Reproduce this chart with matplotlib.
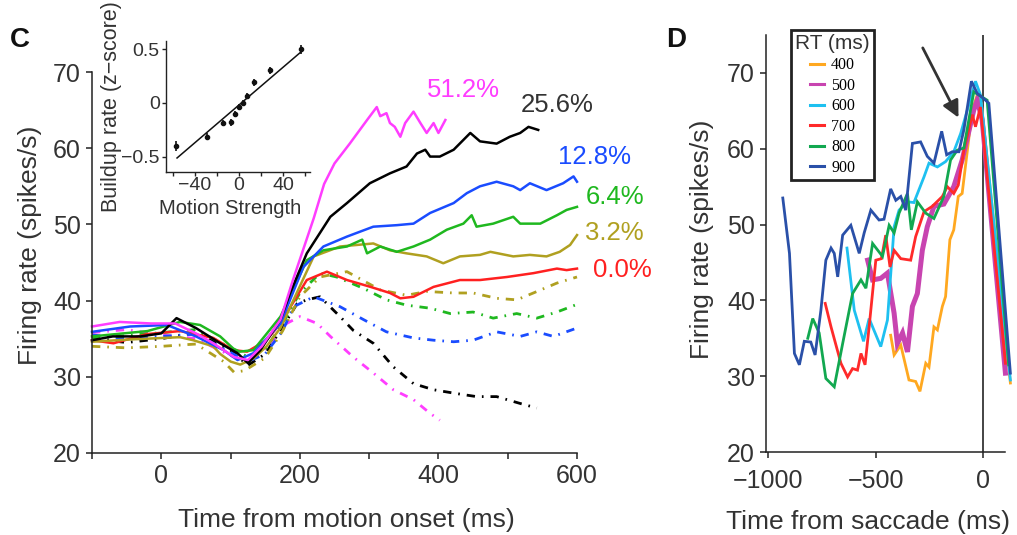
import matplotlib
matplotlib.use("Agg")
import matplotlib.pyplot as plt
from matplotlib.ticker import FixedLocator

plt.rcParams['font.family'] = ['Liberation Sans', 'DejaVu Sans']

# ---------------- Panel C data (time from motion onset, ms / firing rate) ----------------
coh_labels = ['51.2%', '25.6%', '12.8%', '6.4%', '3.2%', '0.0%']
coh_colors = ['#ff3dff', '#000000', '#1a4cff', '#1fb81f', '#b0a020', '#ff2020']

t_in_512 = [-100, -60, -15, 20, 50, 75, 105, 125, 145, 172, 190, 220, 235, 250, 272, 297, 311, 316, 325, 330, 337, 345, 352, 364, 374, 383, 393, 400, 410]
r_in_512 = [36.6, 37.2, 37.0, 37.0, 35.7, 34.4, 32.6, 32.2, 34.0, 37.5, 42.7, 50.8, 55.3, 58.0, 60.6, 63.7, 65.4, 64.2, 64.6, 63.3, 62.8, 61.5, 63.3, 64.8, 63.3, 62.0, 63.3, 62.0, 63.7]

t_in_256 = [-100, -70, -30, 0, 22, 50, 85, 110, 125, 143, 172, 186, 210, 244, 268, 301, 330, 354, 369, 381, 388, 402, 422, 446, 460, 484, 503, 518, 530, 544]
r_in_256 = [34.8, 35.3, 35.3, 35.7, 37.7, 36.4, 34.4, 33.1, 31.8, 33.5, 37.5, 41.0, 46.2, 51.0, 52.8, 55.4, 56.7, 57.6, 59.3, 59.8, 58.9, 58.9, 59.8, 62.0, 60.9, 60.6, 61.5, 62.0, 62.8, 62.4]

t_in_128 = [-100, -45, 8, 50, 90, 110, 133, 172, 205, 234, 268, 306, 340, 364, 388, 422, 441, 460, 484, 508, 518, 532, 556, 580, 595, 600]
r_in_128 = [35.9, 36.6, 36.8, 35.3, 33.5, 32.2, 33.1, 37.0, 44.4, 47.1, 48.4, 49.7, 49.9, 50.1, 51.5, 52.8, 54.1, 55.0, 55.6, 55.0, 54.5, 55.4, 54.5, 55.4, 56.3, 55.6]

t_in_64 = [-100, -20, 27, 56, 85, 104, 113, 133, 172, 210, 234, 268, 290, 297, 316, 340, 364, 388, 412, 436, 448, 455, 479, 508, 518, 547, 571, 585, 600]
r_in_64 = [35.3, 36.0, 37.2, 36.8, 35.3, 33.7, 33.3, 33.5, 37.9, 45.3, 46.6, 47.1, 48.0, 46.2, 47.1, 46.4, 47.1, 48.0, 49.3, 50.1, 51.2, 49.7, 50.1, 51.0, 50.1, 50.1, 51.2, 51.9, 52.3]

t_in_32 = [-100, -45, 27, 46, 75, 85, 100, 114, 133, 152, 172, 220, 258, 306, 330, 354, 383, 407, 431, 460, 475, 508, 532, 556, 575, 590, 600]
r_in_32 = [34.6, 34.9, 35.2, 34.8, 34.0, 33.0, 32.0, 31.6, 32.4, 34.0, 36.4, 45.8, 47.1, 47.5, 46.6, 46.2, 45.8, 44.9, 45.8, 46.0, 46.4, 45.8, 46.0, 45.8, 46.4, 47.3, 48.6]

t_in_0 = [-100, -69, -21, 27, 75, 104, 124, 152, 172, 210, 239, 268, 302, 330, 345, 364, 393, 431, 460, 499, 537, 571, 585, 600]
r_in_0 = [34.8, 34.4, 35.6, 36.0, 35.1, 33.5, 33.3, 34.8, 37.0, 42.7, 43.8, 42.7, 41.8, 41.0, 40.3, 40.5, 41.8, 42.7, 42.7, 43.1, 43.6, 44.2, 44.0, 44.2]

t_out_512 = [-100, -50, 0, 50, 100, 125, 150, 181, 200, 225, 244, 277, 306, 335, 364, 388, 402]
r_out_512 = [35.8, 36.2, 35.5, 35.0, 32.8, 32.0, 33.6, 37.0, 37.9, 37.0, 35.3, 32.6, 30.5, 28.3, 27.0, 25.2, 24.3]

t_out_256 = [-100, -50, 0, 50, 100, 125, 150, 175, 196, 210, 229, 258, 277, 306, 335, 364, 393, 426, 455, 484, 518, 542]
r_out_256 = [35.0, 34.5, 35.0, 35.8, 33.5, 31.5, 33.0, 36.5, 39.6, 40.1, 40.5, 37.9, 36.1, 34.4, 31.3, 29.1, 28.3, 27.8, 27.4, 27.4, 26.5, 25.9]

t_out_128 = [-100, -50, 0, 50, 100, 125, 150, 175, 191, 220, 258, 292, 325, 364, 393, 422, 450, 484, 518, 542, 566, 600]
r_out_128 = [35.5, 35.0, 35.3, 35.6, 33.2, 32.0, 33.0, 36.0, 39.2, 40.5, 39.2, 37.5, 35.9, 35.1, 34.8, 34.6, 34.8, 35.9, 35.3, 35.9, 35.3, 36.4]

t_out_64 = [-100, -50, 0, 50, 100, 125, 150, 175, 200, 229, 253, 292, 325, 354, 388, 417, 450, 479, 513, 542, 571, 597]
r_out_64 = [35.0, 35.4, 35.8, 36.2, 33.8, 32.6, 33.6, 37.0, 41.0, 43.6, 43.1, 41.6, 40.1, 39.4, 39.0, 38.3, 38.5, 37.7, 38.3, 37.7, 38.5, 39.4]

t_out_32 = [-100, -50, 0, 50, 90, 105, 120, 150, 175, 200, 229, 268, 316, 354, 383, 422, 450, 484, 513, 537, 571, 600]
r_out_32 = [34.0, 33.8, 34.0, 34.3, 32.0, 30.6, 30.8, 32.5, 36.0, 40.5, 43.1, 43.8, 41.4, 40.7, 41.2, 41.0, 41.0, 40.3, 40.1, 41.0, 42.3, 43.1]

label_x = [384, 519, 573, 612, 612, 623]
label_y = [67.6, 65.7, 58.9, 53.6, 48.9, 44.0]

# ---------------- Inset data ----------------
ms_x = [-56.6, -28.8, -14.3, -7.3, -3.6, 0.0, 3.4, 7.0, 13.9, 28.5, 56.6]
ms_y = [-0.396, -0.311, -0.186, -0.179, -0.10, -0.038, 0.003, 0.066, 0.192, 0.302, 0.497]
ms_err = [0.045, 0.035, 0.03, 0.03, 0.03, 0.025, 0.025, 0.03, 0.03, 0.035, 0.045]
fit_x = [-56.0, 56.6]
fit_y = [-0.51, 0.476]

# ---------------- Panel D data (time from saccade, ms / firing rate) ----------------
rt_labels = ['400', '500', '600', '700', '800', '900']
rt_colors = ['#ffa820', '#c844b0', '#1ec0f0', '#ff2a2a', '#12a850', '#2a50a8']
rt_widths = [2.0, 3.6, 2.0, 2.0, 2.0, 2.0]

t_rt400 = [-431, -415, -384, -346, -315, -295, -268, -253, -230, -214, -191, -176, -156, -138, -117, -99, -52, -30, -10, 125]
r_rt400 = [35.4, 32.8, 34.1, 29.5, 29.3, 28.0, 31.7, 31.2, 36.5, 36.1, 39.2, 40.5, 48.0, 49.3, 53.7, 54.1, 65.1, 67.0, 66.0, 29.1]

t_rt500 = [-538, -515, -477, -446, -415, -400, -376, -353, -330, -307, -284, -261, -230, -184, -138, -99, -45, -29, -6, 102]
r_rt500 = [45.3, 42.7, 42.9, 43.6, 38.3, 34.3, 35.7, 33.2, 39.2, 40.9, 46.6, 49.7, 52.4, 52.7, 55.0, 58.5, 65.1, 66.4, 63.8, 30.4]

t_rt600 = [-634, -600, -557, -531, -477, -446, -415, -392, -353, -323, -276, -253, -214, -176, -138, -106, -37, -14, 125]
r_rt600 = [46.9, 38.7, 34.6, 37.6, 33.9, 37.4, 49.7, 51.9, 53.0, 52.9, 56.3, 58.1, 57.6, 58.3, 59.6, 62.0, 68.9, 67.1, 29.5]

t_rt700 = [-735, -708, -662, -631, -608, -585, -569, -550, -531, -500, -474, -454, -434, -415, -384, -338, -315, -276, -238, -191, -168, -138, -117, -91, -52, -37, -14, 102]
r_rt700 = [39.6, 36.5, 31.7, 29.9, 31.0, 30.8, 33.0, 31.5, 36.5, 45.3, 45.5, 48.6, 44.4, 46.6, 45.5, 45.3, 48.4, 51.7, 52.4, 53.7, 55.0, 54.1, 55.2, 59.8, 64.5, 62.9, 65.5, 31.7]

t_rt800 = [-816, -793, -763, -732, -693, -654, -608, -569, -546, -515, -469, -438, -415, -392, -353, -335, -307, -268, -230, -184, -153, -122, -91, -45, 17, 117]
r_rt800 = [35.0, 37.6, 35.7, 29.7, 28.6, 34.3, 40.9, 42.7, 41.6, 47.5, 45.8, 49.9, 48.9, 51.5, 54.1, 49.3, 53.0, 51.5, 50.8, 53.7, 58.5, 59.8, 60.1, 67.5, 66.4, 31.5]

t_rt900 = [-932, -901, -878, -855, -832, -802, -782, -755, -732, -708, -693, -677, -654, -616, -577, -554, -523, -485, -462, -431, -407, -384, -361, -330, -292, -261, -230, -194, -171, -145, -114, -91, -56, -29, 2, 25, 125]
r_rt900 = [53.5, 46.2, 33.0, 31.5, 34.6, 34.5, 32.8, 38.7, 45.3, 46.9, 46.2, 43.1, 48.6, 49.9, 46.2, 48.9, 51.9, 50.6, 50.7, 54.7, 53.2, 53.7, 51.9, 60.7, 60.9, 59.0, 58.1, 62.3, 59.2, 59.6, 59.6, 62.5, 68.9, 67.3, 66.6, 66.0, 30.4]

arrow_tail = (-282, 73.3)
arrow_head = (-116, 64.1)

# ---------------- Figure ----------------
W, H = 1017, 535
fig = plt.figure(figsize=(W / 100, H / 100), dpi=100)

def fx(px):
    return px / W

def fy(py):
    return 1 - py / H

TXT = '#333333'
SPINE = '#222222'

def style_axes(ax, lw=1.1):
    for s in ['top', 'right']:
        ax.spines[s].set_visible(False)
    for s in ['left', 'bottom']:
        ax.spines[s].set_linewidth(lw)
        ax.spines[s].set_color(SPINE)
    ax.tick_params(which='both', direction='out', color=SPINE, width=lw, labelcolor=TXT)

# Panel C
axC = fig.add_axes([fx(92), fy(453), fx(577) - fx(92), fy(72) - fy(453)])
style_axes(axC)
axC.set_xlim(-100, 600)
axC.set_ylim(20, 70)
axC.xaxis.set_major_locator(FixedLocator([0, 200, 400, 600]))
axC.xaxis.set_minor_locator(FixedLocator([-100, 100, 300, 500]))
axC.set_yticks([20, 30, 40, 50, 60, 70])
axC.tick_params(which='both', length=4, pad=4, labelsize=18)

in_curves = [(t_in_512, r_in_512), (t_in_256, r_in_256), (t_in_128, r_in_128),
             (t_in_64, r_in_64), (t_in_32, r_in_32), (t_in_0, r_in_0)]
out_curves = [(t_out_512, r_out_512), (t_out_256, r_out_256), (t_out_128, r_out_128),
              (t_out_64, r_out_64), (t_out_32, r_out_32)]

for (t, r), c in zip(out_curves, coh_colors[:5]):
    axC.plot(t, r, color=c, lw=2.0, linestyle=(0, (3, 2.5, 0.6, 2.5)), clip_on=False)
for (t, r), c in zip(in_curves[::-1], coh_colors[::-1]):
    axC.plot(t, r, color=c, lw=1.8, clip_on=False)

for lab, c, x, y in zip(coh_labels, coh_colors, label_x, label_y):
    tc = '#333333' if c == '#000000' else c
    axC.text(x, y, lab, color=tc, fontsize=18.5, ha='left', va='center', clip_on=False)

fig.text(fx(20), fy(40), 'C', fontsize=20, fontweight='bold', ha='center', va='center', color='#111111')
fig.text(fx(30), fy(245), 'Firing rate (spikes/s)', rotation=90, fontsize=19, ha='center', va='center', color=TXT)
fig.text(fx(346), fy(520), 'Time from motion onset (ms)', fontsize=19, ha='center', va='center', color=TXT)

# Inset
axI = fig.add_axes([fx(166), fy(172), fx(310) - fx(166), fy(41) - fy(172)])
style_axes(axI, lw=1.0)
axI.set_xlim(-66, 64.5)
axI.set_ylim(-0.64, 0.575)
axI.set_xticks([-40, 0, 40])
axI.xaxis.set_minor_locator(FixedLocator([-60, -20, 20, 60]))
axI.set_yticks([-0.5, 0, 0.5])
axI.set_yticklabels(['\u22120.5', '0', '0.5'])
axI.tick_params(which='both', length=3, pad=1.5, labelsize=14)
axI.tick_params(axis='x', pad=0.5)
axI.plot(fit_x, fit_y, color='#111111', lw=1.1)
axI.errorbar(ms_x, ms_y, yerr=ms_err, fmt='o', ms=3, color='#111111', elinewidth=1.2, capsize=0)
fig.text(fx(111), fy(212), 'Buildup rate (z\u2212score)', rotation=90, fontsize=15.5, ha='center', va='bottom', color=TXT)
fig.text(fx(230), fy(208), 'Motion Strength', fontsize=14.5, ha='center', va='center', color=TXT)

# Panel D
axD = fig.add_axes([fx(766), fy(452), fx(1005) - fx(766), fy(35) - fy(452)])
style_axes(axD)
axD.set_xlim(-1010, 100)
axD.set_ylim(20, 75)
axD.set_xticks([-1000, -500, 0])
axD.set_yticks([20, 30, 40, 50, 60, 70])
axD.tick_params(which='both', length=4, pad=4, labelsize=18)
axD.tick_params(axis='x', pad=8)
axD.axvline(0, color='#111111', lw=1.1)

rt_curves = [(t_rt400, r_rt400), (t_rt500, r_rt500), (t_rt600, r_rt600),
             (t_rt700, r_rt700), (t_rt800, r_rt800), (t_rt900, r_rt900)]
handles = []
for (t, r), c, lw, lab in zip(rt_curves, rt_colors, rt_widths, rt_labels):
    ln, = axD.plot(t, r, color=c, lw=lw, clip_on=False, label=lab, solid_joinstyle='miter')
    handles.append(ln)

axD.annotate('', xy=arrow_head, xytext=arrow_tail,
             arrowprops=dict(arrowstyle='-|>,head_length=1.0,head_width=0.5', color='#333333', lw=2.0,
                             shrinkA=0, shrinkB=0))

leg = axD.legend(handles, rt_labels, title='RT (ms)', loc='upper left',
                 bbox_to_anchor=(fx(791), fy(30)), bbox_transform=fig.transFigure,
                 prop={'family': 'Liberation Serif', 'size': 11.5},
                 title_fontproperties={'family': 'Liberation Sans', 'size': 15},
                 handlelength=0.9, handletextpad=0.45, labelspacing=0.28, borderpad=0.25,
                 borderaxespad=0, frameon=True, fancybox=False, framealpha=1)
leg.get_frame().set_edgecolor('#222222')
leg.get_frame().set_linewidth(2.0)
leg.get_title().set_color(TXT)
for lh in leg.get_lines():
    lh.set_linewidth(2.2)

fig.text(fx(676), fy(40), 'D', fontsize=20, fontweight='bold', ha='center', va='center', color='#111111')
fig.text(fx(702), fy(239), 'Firing rate (spikes/s)', rotation=90, fontsize=19, ha='center', va='center', color=TXT)
fig.text(fx(868), fy(522), 'Time from saccade (ms)', fontsize=19, ha='center', va='center', color=TXT)

fig.savefig('out.png', dpi=100)
